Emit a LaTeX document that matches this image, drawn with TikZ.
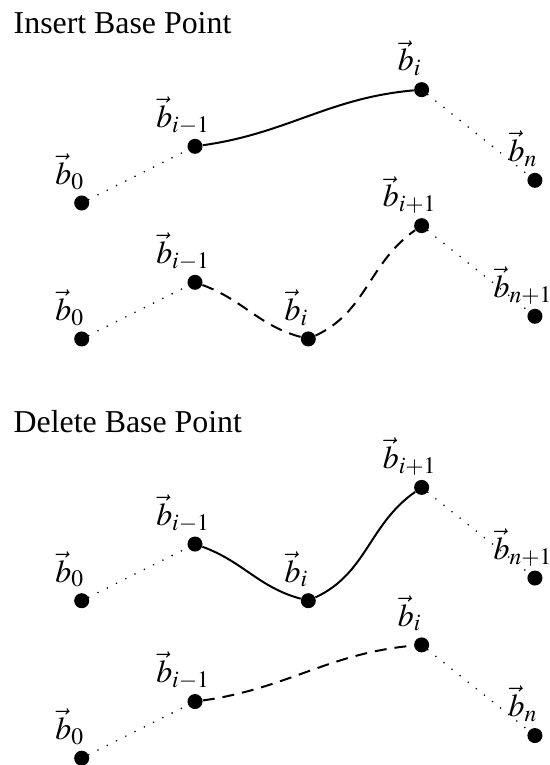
\documentclass[tikz,border=0pt]{standalone}
\usepackage{mathptmx}
\usepackage{fontspec}
\setmainfont{Liberation Serif}
\usepackage{tikz}
\usetikzlibrary{positioning, calc}

\tikzset{
  dot/.style={circle, fill=black, inner sep=0pt, minimum size=0.265cm},
  lbl/.style={anchor=base, inner sep=0pt},
  title/.style={anchor=base west, inner sep=0pt},
  dotline/.style={line width=0.9pt, line cap=round, dash pattern=on 0pt off 5.2pt},
  curve/.style={line width=1pt},
  dashline/.style={line width=1pt, dash pattern=on 6pt off 4pt}
}

\begin{document}
\begin{tikzpicture}[font=\fontsize{16}{19}\selectfont]
  \useasboundingbox (-1.442,-9.920) rectangle (8.249,3.583);

  \node[title] (ins) at (-1.207,2.983) {Insert Base Point};
  \node[title] (del) at (-1.207,-4.055) {Delete Base Point};

  % Insert: before
  \foreach \nm/\x/\y/\s in {A0/0/0/0, A1/2/1/{i-1}, A2/6/2/i, A3/8/0.4/n} {
    \node[dot] (\nm) at (\x,\y) {};
    \node[lbl] (\nm l) at (\x-0.21,\y+0.33) {$\vec{b}_{\s}$};
  }
  \draw[dotline] (A0) -- (A1);
  \draw[curve] (A1) to[out=8, in=185] (A2);
  \draw[dotline] (A2) -- (A3);

  % Insert: after
  \begin{scope}[yshift=-2.4cm]
    \foreach \nm/\x/\y/\s in {B0/0/0/0, B1/2/1/{i-1}, B2/4/0/i, B3/6/2/{i+1}, B4/8/0.4/{n+1}} {
      \node[dot] (\nm) at (\x,\y) {};
      \node[lbl] (\nm l) at (\x-0.21,\y+0.33) {$\vec{b}_{\s}$};
    }
    \draw[dotline] (B0) -- (B1);
    \draw[dashline] (B1) to[out=-20, in=165] (B2) to[out=25, in=-145] (B3);
    \draw[dotline] (B3) -- (B4);
  \end{scope}

  % Delete: before
  \begin{scope}[yshift=-7.02cm]
    \foreach \nm/\x/\y/\s in {C0/0/0/0, C1/2/1/{i-1}, C2/4/0/i, C3/6/2/{i+1}, C4/8/0.4/{n+1}} {
      \node[dot] (\nm) at (\x,\y) {};
      \node[lbl] (\nm l) at (\x-0.21,\y+0.33) {$\vec{b}_{\s}$};
    }
    \draw[dotline] (C0) -- (C1);
    \draw[curve] (C1) to[out=-20, in=165] (C2) to[out=25, in=-145] (C3);
    \draw[dotline] (C3) -- (C4);
  \end{scope}

  % Delete: after
  \begin{scope}[yshift=-9.8cm]
    \foreach \nm/\x/\y/\s in {D0/0/0/0, D1/2/1/{i-1}, D2/6/2/i, D3/8/0.4/n} {
      \node[dot] (\nm) at (\x,\y) {};
      \node[lbl] (\nm l) at (\x-0.21,\y+0.33) {$\vec{b}_{\s}$};
    }
    \draw[dotline] (D0) -- (D1);
    \draw[dashline] (D1) to[out=8, in=185] (D2);
    \draw[dotline] (D2) -- (D3);
  \end{scope}
\end{tikzpicture}
\end{document}
